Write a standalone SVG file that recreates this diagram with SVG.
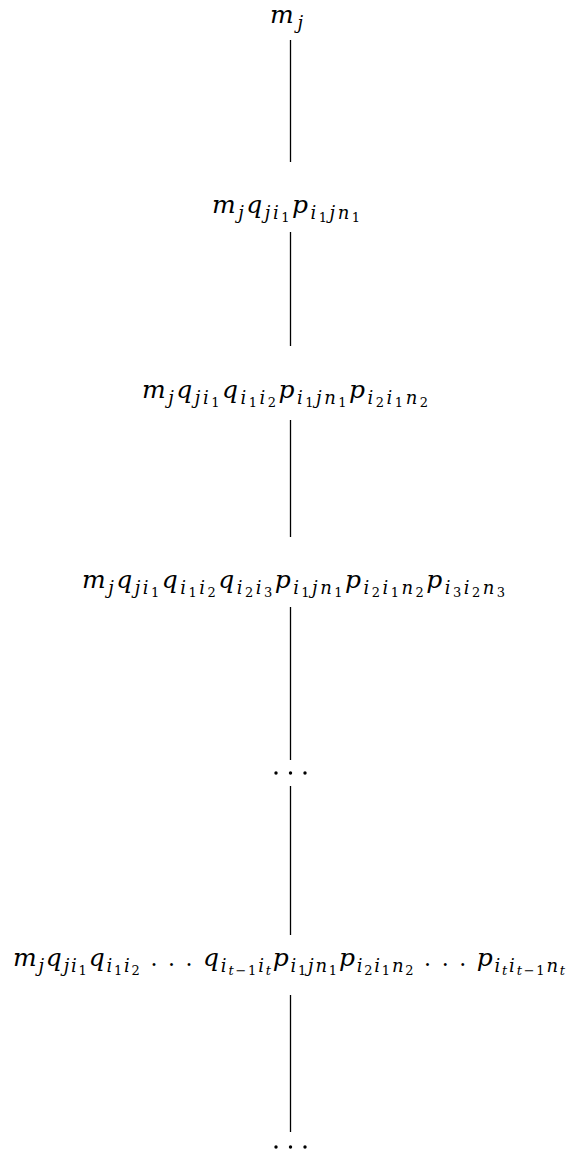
<svg xmlns="http://www.w3.org/2000/svg" width="570" height="1153" viewBox="0 0 570 1153">
  <style>
    text { font-family: "DejaVu Serif", "Liberation Serif", serif; fill: #000; }
    .b { font-size: 25px; font-style: italic; }
    .s { font-size: 18px; font-style: italic; }
    .ss { font-size: 13px; font-style: normal; }
    .ssi { font-size: 13px; font-style: italic; }
    .dd { font-size: 22px; font-style: normal; }
    .edge { stroke: #000; stroke-width: 1.3; fill: none; }
    .dot { fill: #000; }
  </style>
  <rect width="570" height="1153" fill="#fff"/>

  <!-- connectors -->
  <g id="connectors">
    <line class="edge" x1="290.5" y1="40" x2="290.5" y2="162"/>
    <line class="edge" x1="290.5" y1="232" x2="290.5" y2="346"/>
    <line class="edge" x1="290.5" y1="420" x2="290.5" y2="537"/>
    <line class="edge" x1="290.5" y1="607" x2="290.5" y2="760"/>
    <line class="edge" x1="290.5" y1="786" x2="290.5" y2="935"/>
    <line class="edge" x1="290.5" y1="995" x2="290.5" y2="1132"/>
  </g>

  <!-- level 0 -->
  <g id="n0">
    <text x="270" y="23" textLength="33" lengthAdjust="spacing"><tspan class="b">m</tspan><tspan class="s" y="29">j</tspan></text>
  </g>

  <!-- level 1 -->
  <g id="n1">
    <text x="212" y="213" textLength="148" lengthAdjust="spacing"><tspan class="b">m</tspan><tspan class="s" y="219">j</tspan><tspan class="b" y="213">q</tspan><tspan class="s" y="219">ji</tspan><tspan class="ss" y="222">1</tspan><tspan class="b" y="213">p</tspan><tspan class="s" y="219">i</tspan><tspan class="ss" y="222">1</tspan><tspan class="s" y="219">jn</tspan><tspan class="ss" y="222">1</tspan></text>
  </g>

  <!-- level 2 -->
  <g id="n2">
    <text x="142" y="398" textLength="286" lengthAdjust="spacing"><tspan class="b">m</tspan><tspan class="s" y="404">j</tspan><tspan class="b" y="398">q</tspan><tspan class="s" y="404">ji</tspan><tspan class="ss" y="407">1</tspan><tspan class="b" y="398">q</tspan><tspan class="s" y="404">i</tspan><tspan class="ss" y="407">1</tspan><tspan class="s" y="404">i</tspan><tspan class="ss" y="407">2</tspan><tspan class="b" y="398">p</tspan><tspan class="s" y="404">i</tspan><tspan class="ss" y="407">1</tspan><tspan class="s" y="404">jn</tspan><tspan class="ss" y="407">1</tspan><tspan class="b" y="398">p</tspan><tspan class="s" y="404">i</tspan><tspan class="ss" y="407">2</tspan><tspan class="s" y="404">i</tspan><tspan class="ss" y="407">1</tspan><tspan class="s" y="404">n</tspan><tspan class="ss" y="407">2</tspan></text>
  </g>

  <!-- level 3 -->
  <g id="n3">
    <text x="82" y="588" textLength="423" lengthAdjust="spacing"><tspan class="b">m</tspan><tspan class="s" y="594">j</tspan><tspan class="b" y="588">q</tspan><tspan class="s" y="594">ji</tspan><tspan class="ss" y="597">1</tspan><tspan class="b" y="588">q</tspan><tspan class="s" y="594">i</tspan><tspan class="ss" y="597">1</tspan><tspan class="s" y="594">i</tspan><tspan class="ss" y="597">2</tspan><tspan class="b" y="588">q</tspan><tspan class="s" y="594">i</tspan><tspan class="ss" y="597">2</tspan><tspan class="s" y="594">i</tspan><tspan class="ss" y="597">3</tspan><tspan class="b" y="588">p</tspan><tspan class="s" y="594">i</tspan><tspan class="ss" y="597">1</tspan><tspan class="s" y="594">jn</tspan><tspan class="ss" y="597">1</tspan><tspan class="b" y="588">p</tspan><tspan class="s" y="594">i</tspan><tspan class="ss" y="597">2</tspan><tspan class="s" y="594">i</tspan><tspan class="ss" y="597">1</tspan><tspan class="s" y="594">n</tspan><tspan class="ss" y="597">2</tspan><tspan class="b" y="588">p</tspan><tspan class="s" y="594">i</tspan><tspan class="ss" y="597">3</tspan><tspan class="s" y="594">i</tspan><tspan class="ss" y="597">2</tspan><tspan class="s" y="594">n</tspan><tspan class="ss" y="597">3</tspan></text>
  </g>

  <!-- ellipsis -->
  <g id="n4">
    <circle class="dot" cx="276" cy="773" r="1.7"/>
    <circle class="dot" cx="290.5" cy="773" r="1.7"/>
    <circle class="dot" cx="305" cy="773" r="1.7"/>
  </g>

  <!-- level t -->
  <g id="n5">
    <text x="13" y="966" textLength="552" lengthAdjust="spacing"><tspan class="b">m</tspan><tspan class="s" y="972">j</tspan><tspan class="b" y="966">q</tspan><tspan class="s" y="972">ji</tspan><tspan class="ss" y="975">1</tspan><tspan class="b" y="966">q</tspan><tspan class="s" y="972">i</tspan><tspan class="ss" y="975">1</tspan><tspan class="s" y="972">i</tspan><tspan class="ss" y="975">2</tspan><tspan class="dd" y="966"> . . . </tspan><tspan class="b" y="966">q</tspan><tspan class="s" y="972">i</tspan><tspan class="ssi" y="975">t</tspan><tspan class="ss" y="975">−1</tspan><tspan class="s" y="972">i</tspan><tspan class="ssi" y="975">t</tspan><tspan class="b" y="966">p</tspan><tspan class="s" y="972">i</tspan><tspan class="ss" y="975">1</tspan><tspan class="s" y="972">jn</tspan><tspan class="ss" y="975">1</tspan><tspan class="b" y="966">p</tspan><tspan class="s" y="972">i</tspan><tspan class="ss" y="975">2</tspan><tspan class="s" y="972">i</tspan><tspan class="ss" y="975">1</tspan><tspan class="s" y="972">n</tspan><tspan class="ss" y="975">2</tspan><tspan class="dd" y="966"> . . . </tspan><tspan class="b" y="966">p</tspan><tspan class="s" y="972">i</tspan><tspan class="ssi" y="975">t</tspan><tspan class="s" y="972">i</tspan><tspan class="ssi" y="975">t</tspan><tspan class="ss" y="975">−1</tspan><tspan class="s" y="972">n</tspan><tspan class="ssi" y="975">t</tspan></text>
  </g>

  <!-- trailing ellipsis -->
  <g id="n6">
    <circle class="dot" cx="276" cy="1147" r="1.7"/>
    <circle class="dot" cx="290.5" cy="1147" r="1.7"/>
    <circle class="dot" cx="305" cy="1147" r="1.7"/>
  </g>
</svg>
